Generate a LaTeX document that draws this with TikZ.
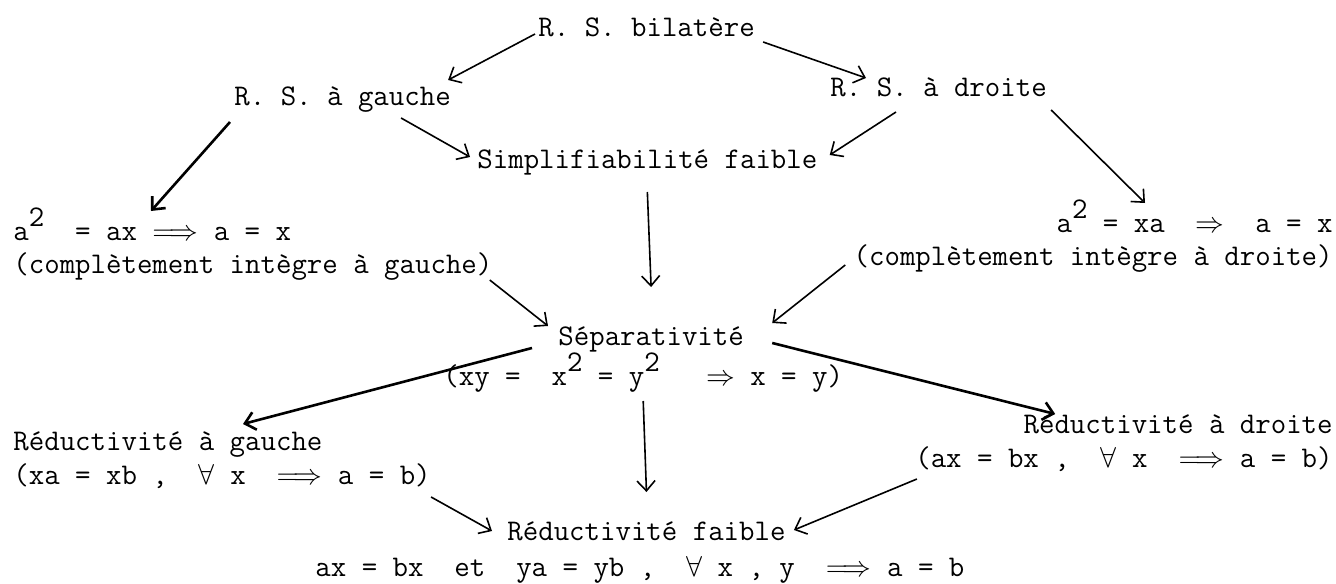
\documentclass[tikz,border=0pt]{standalone}
\usetikzlibrary{arrows.meta}
\newcommand{\supii}{\raisebox{0.45em}{2}}
\begin{document}
\begin{tikzpicture}[x=0.5pt,y=-0.5pt,
  lbl/.style={inner sep=0pt, font=\ttfamily\fontsize{15}{18}\selectfont},
  arr/.style={line width=0.8pt, -{Straight Barb[length=5pt,width=9pt]}},
  heavy/.style={line width=1.3pt}]
\useasboundingbox (0,0) rectangle (1336,583);
% nodes
\node[lbl,anchor=base west] (bil) at (538,37) {R. S. bilatère};
\node[lbl,anchor=base west] (rsg) at (234,105) {R. S. à gauche};
\node[lbl,anchor=base west] (rsd) at (830,97) {R. S. à droite};
\node[lbl,anchor=base west] (sf) at (477,168) {Simplifiabilité faible};
\node[lbl,anchor=base west] (a2l1) at (13,240) {a\supii{}~~=~ax~$\Longrightarrow$~a~=~x};
\node[lbl,anchor=base west] (a2l2) at (13,273) {(complètement intègre à gauche)};
\node[lbl,anchor=base east] (a2r1) at (1333,232) {a\supii{}~=~xa~~$\Rightarrow$~~a~=~x};
\node[lbl,anchor=base east] (a2r2) at (1333,265) {(complètement intègre à droite)};
\node[lbl,anchor=base west] (sep1) at (558,345) {Séparativité};
\node[lbl,anchor=base west] (sep2) at (443,385) {(xy~=~~x\supii{}~=~y\supii{}~~~$\Rightarrow$~x~=~y)};
\node[lbl,anchor=base west] (redg1) at (13,450) {Réductivité à gauche};
\node[lbl,anchor=base west] (redg2) at (13,484) {(xa~=~xb~,~~$\forall$~x~~$\Longrightarrow$~a~=~b)};
\node[lbl,anchor=base east] (redd1) at (1333,433) {Réductivité à droite};
\node[lbl,anchor=base east] (redd2) at (1333,467) {(ax~=~bx~,~~$\forall$~x~~$\Longrightarrow$~a~=~b)};
\node[lbl,anchor=base west] (redf1) at (507,540) {Réductivité faible};
\node[lbl,anchor=base west] (redf2) at (315,576) {ax~=~bx~~et~~ya~=~yb~,~~$\forall$~x~,~y~~$\Longrightarrow$~a~=~b};
% connectors
\draw[arr] ([shift={(-3,-3)}]bil.base west) -- ([shift={(-3,-25)}]rsg.base east);
\draw[arr] ([shift={(8,5)}]bil.base east) -- ([shift={(36,-19)}]rsd.base west);
\draw[arr] ([shift={(-50,13)}]rsg.base east) -- ([shift={(-7,-11)}]sf.base west);
\draw[arr] ([shift={(66,15)}]rsd.base west) -- ([shift={(12,-13)}]sf.base east);
\draw[arr,heavy] ([shift={(-4,17)}]rsg.base west) -- ([shift={(138,-29)}]a2l1.base west);
\draw[arr] ([shift={(4,13)}]rsd.base east) -- ([shift={(-188,-29)}]a2r1.base east);
\draw[arr] ([shift={(0,24)}]sf.base) -- ([shift={(0,-58)}]sep1.base);
\draw[arr] ([shift={(-3,7)}]a2l2.base east) -- ([shift={(-10,-19)}]sep1.base west);
\draw[arr] ([shift={(-8,0)}]a2r2.base west) -- ([shift={(28,-22)}]sep1.base east);
\draw[arr,heavy] ([shift={(-26,3)}]sep1.base west) -- ([shift={(230,-26)}]redg1.base west);
\draw[arr,heavy] ([shift={(28,-2)}]sep1.base east) -- ([shift={(32,-19)}]redd1.base west);
\draw[arr] ([shift={(0,16)}]sep2.base) -- ([shift={(0,-48)}]redf1.base);
\draw[arr] ([shift={(0,13)}]redg2.base east) -- ([shift={(-15,-9)}]redf1.base west);
\draw[arr] ([shift={(2,12)}]redd2.base west) -- ([shift={(8,-10)}]redf1.base east);
\end{tikzpicture}
\end{document}
